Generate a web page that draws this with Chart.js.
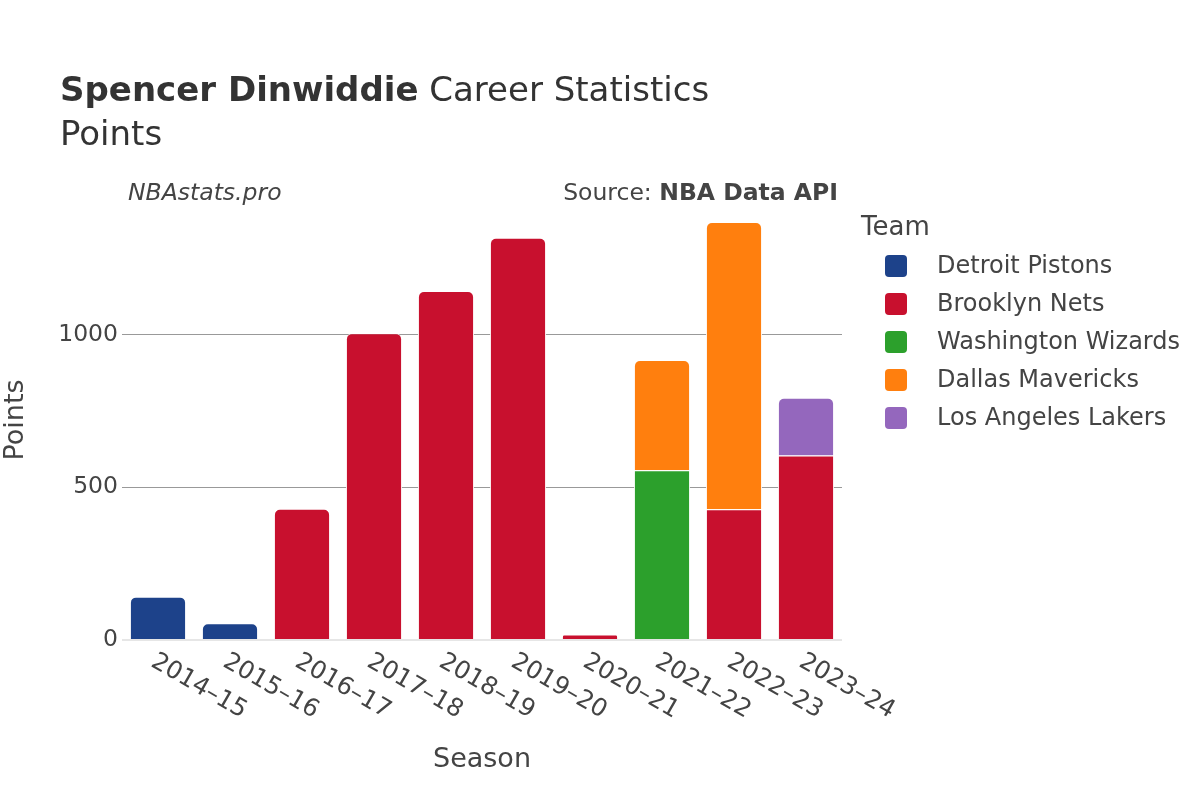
<!DOCTYPE html>
<html>
<head>
<meta charset="utf-8">
<title>Spencer Dinwiddie Career Statistics - Points</title>
<script src="https://cdn.jsdelivr.net/npm/chart.js@4.4.0/dist/chart.umd.min.js"></script>
<style>
    html, body { margin: 0; padding: 0; background: #fff; }
    #wrap { width: 1200px; height: 800px; }
</style>
</head>
<body>
<div id="wrap"><canvas id="pointsChart" width="1200" height="800"></canvas></div>
<script>
// Seasons and points per team
const seasons = ['2014–15', '2015–16', '2016–17', '2017–18', '2018–19', '2019–20', '2020–21', '2021–22', '2022–23', '2023–24'];
const teams = ['Detroit Pistons', 'Brooklyn Nets', 'Washington Wizards', 'Dallas Mavericks', 'Los Angeles Lakers'];
const teamColors = ['#1d428a', '#c8102e', '#2ca02c', '#ff7f0e', '#9467bd'];
const detroitPts = [142, 55, null, null, null, null, null, null, null, null];
const brooklynPts = [null, null, 430, 1005, 1143, 1317, 18, null, 428, 604];
const washingtonPts = [null, null, null, null, null, null, null, 556, null, null];
const dallasPts = [null, null, null, null, null, null, null, 361, 941, null];
const lakersPts = [null, null, null, null, null, null, null, null, null, 189];
const yTicks = [0, 500, 1000];
const yMax = 1441;

const FONT = '"DejaVu Sans", Verdana, sans-serif';
const TEXT = '#444';

const teamValues = [detroitPts, brooklynPts, washingtonPts, dallasPts, lakersPts];
const datasets = teams.map(function(name, i) {
    return {
        label: name,
        data: teamValues[i],
        backgroundColor: teamColors[i],
        borderColor: '#ffffff',
        borderWidth: 1,
        borderRadius: 6,
        borderSkipped: 'start',
        barPercentage: 0.78,
        categoryPercentage: 1.0
    };
});

// Titles, rotated season labels, axis titles and the legend
const decorations = {
    id: 'decorations',
    afterDraw: function(chart) {
        const c = chart.ctx;
        const area = chart.chartArea;
        const xScale = chart.scales.x;
        c.save();

        // main title
        c.fillStyle = '#333';
        c.textBaseline = 'alphabetic';
        c.textAlign = 'left';
        c.font = 'bold 34px ' + FONT;
        const boldPart = 'Spencer Dinwiddie';
        c.fillText(boldPart, 60, 101);
        const w = c.measureText(boldPart).width;
        c.font = '34px ' + FONT;
        c.fillText(' Career Statistics', 60 + w, 101);
        c.fillText('Points', 60, 145);

        // watermark and source
        c.fillStyle = TEXT;
        c.font = 'italic 23.5px ' + FONT;
        c.fillText('NBAstats.pro', 128, 200);
        c.textAlign = 'right';
        c.font = 'bold 23.5px ' + FONT;
        const src = 'NBA Data API';
        c.fillText(src, 838, 200);
        const sw = c.measureText(src).width;
        c.font = '23.5px ' + FONT;
        c.fillText('Source: ', 838 - sw, 200);

        // season labels, rotated clockwise
        c.font = '24.5px ' + FONT;
        c.textAlign = 'left';
        c.textBaseline = 'middle';
        seasons.forEach(function(s, i) {
            const x = xScale.getPixelForValue(i);
            c.save();
            c.translate(x - 5, area.bottom + 20);
            c.rotate(Math.PI / 6);
            c.fillText(s, 0, 0);
            c.restore();
        });

        // axis titles
        c.font = '27px ' + FONT;
        c.textAlign = 'center';
        c.fillText('Season', (area.left + area.right) / 2, 760);
        c.save();
        c.translate(16, (area.top + area.bottom) / 2);
        c.rotate(-Math.PI / 2);
        c.fillText('Points', 0, 0);
        c.restore();

        // legend
        c.textAlign = 'left';
        c.font = '26px ' + FONT;
        c.fillText('Team', 861, 228);
        c.font = '24px ' + FONT;
        chart.data.datasets.forEach(function(ds, i) {
            const y = 266 + i * 38;
            c.fillStyle = ds.backgroundColor;
            c.beginPath();
            c.roundRect(885, y - 11, 22, 22, 4);
            c.fill();
            c.fillStyle = TEXT;
            c.fillText(ds.label, 937, y + 1);
        });

        c.restore();
    }
};

const ctx = document.getElementById('pointsChart').getContext('2d');

new Chart(ctx, {
    type: 'bar',
    data: {
        labels: seasons,
        datasets: datasets
    },
    options: {
        responsive: false,
        animation: false,
        devicePixelRatio: 1,
        layout: {
            padding: { top: 200, right: 358, bottom: 0, left: 0 }
        },
        plugins: {
            legend: { display: false },
            title: { display: false },
            tooltip: { enabled: false }
        },
        scales: {
            x: {
                stacked: true,
                grid: { display: false },
                border: { display: false },
                ticks: { display: false },
                afterFit: function(scale) { scale.height = 160; }
            },
            y: {
                stacked: true,
                min: 0,
                max: yMax,
                afterBuildTicks: function(axis) {
                    axis.ticks = yTicks.map(function(v) { return { value: v }; });
                },
                afterFit: function(scale) { scale.width = 122; },
                border: { display: false },
                grid: {
                    drawTicks: false,
                    color: function(c) { return c.tick && c.tick.value === 0 ? '#e6e6e6' : '#999999'; },
                    lineWidth: function(c) { return c.tick && c.tick.value === 0 ? 2 : 1; }
                },
                ticks: {
                    padding: 4,
                    color: TEXT,
                    font: { family: FONT, size: 23.5 },
                    callback: function(value) { return String(value); }
                }
            }
        }
    },
    plugins: [decorations]
});
</script>
</body>
</html>
